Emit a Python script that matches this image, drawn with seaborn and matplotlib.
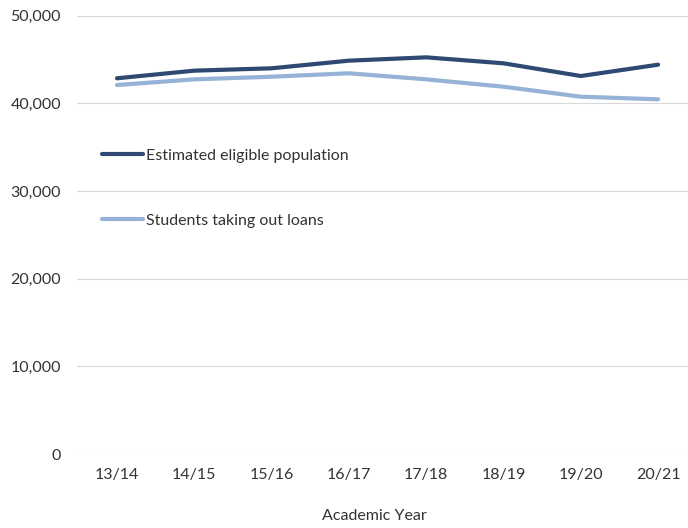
import matplotlib
matplotlib.use("Agg")
import matplotlib.pyplot as plt
import seaborn as sns
import pandas as pd

years = ["13/14", "14/15", "15/16", "16/17", "17/18", "18/19", "19/20", "20/21"]
eligible = [42860, 43730, 44000, 44870, 45250, 44570, 43120, 44410]
loans = [42090, 42740, 43040, 43430, 42740, 41900, 40760, 40460]
series_names = ["Estimated eligible population", "Students taking out loans"]
colors = ["#2E4A72", "#95B3D7"]

df = pd.DataFrame({
    "year": years * 2,
    "pos": list(range(len(years))) * 2,
    "value": eligible + loans,
    "series": [series_names[0]] * len(years) + [series_names[1]] * len(years),
})

sns.set_theme(style="white")
plt.rcParams["font.family"] = ["Lato", "DejaVu Sans"]

fig = plt.figure(figsize=(6.88, 5.28), dpi=100)
ax = fig.add_axes([77 / 688, 74 / 528, 611 / 688, 438.3 / 528])

sns.lineplot(data=df, x="pos", y="value", hue="series", palette=colors,
             linewidth=3, ax=ax, legend=True)

ax.set_ylim(0, 50000)
ax.set_yticks(range(0, 50001, 10000))
ax.set_yticklabels([f"{v:,}" for v in range(0, 50001, 10000)], fontsize=11.5, color="#333333")
ax.set_xlim(-0.517, 7.387)
ax.set_xticks(range(len(years)))
ax.set_xticklabels(years, fontsize=11.5, color="#333333")
ax.tick_params(axis="y", length=0, pad=11.5)
ax.tick_params(axis="x", length=0, pad=10)
ax.yaxis.grid(True, color="#d9d9d9", linewidth=0.8)
ax.xaxis.grid(False)
for s in ax.spines.values():
    s.set_visible(False)
ax.set_ylabel("")
ax.set_xlabel("Academic Year", fontsize=11.5, color="#333333")
ax.xaxis.set_label_coords(0.486, -0.125)

leg = ax.legend(loc="upper left", bbox_to_anchor=(0.017, 0.73), frameon=False,
                fontsize=11.5, handlelength=2.6, handletextpad=0.15,
                labelspacing=3.2)
for t in leg.get_texts():
    t.set_color("#333333")

fig.savefig("out.png", dpi=100)
